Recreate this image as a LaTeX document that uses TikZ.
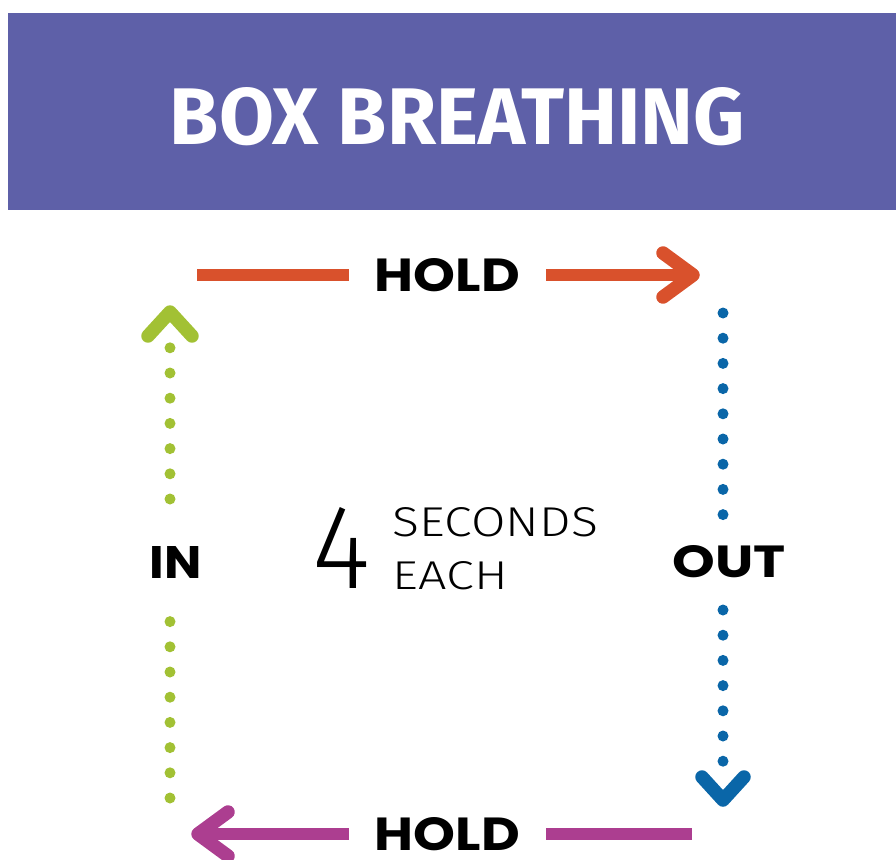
\documentclass[tikz,border=0pt]{standalone}
\usepackage{graphicx}
\usepackage{fontspec}
\setmainfont{Poppins}
\newfontfamily\titlefont{Fira Sans}
\IfFontExistsTF{Fira Sans Light}{\newfontfamily\lightfont{Fira Sans Light}}{\newfontfamily\lightfont{Lato}}
\usetikzlibrary{calc}
\definecolor{bandpurple}{RGB}{94,96,168}
\definecolor{holdorange}{RGB}{217,81,44}
\definecolor{ingreen}{RGB}{162,193,52}
\definecolor{outblue}{RGB}{10,102,168}
\definecolor{holdmagenta}{RGB}{172,62,144}
\tikzset{
  txt/.style={inner sep=0pt, outer sep=0pt, anchor=center},
  lbl/.style={txt, font=\bfseries},
  solidline/.style={line width=12pt, line cap=butt},
  chev/.style={line width=13.5pt, line cap=round, line join=round},
  dots/.style={line width=11pt, line cap=round, dash pattern=on 0pt off 25.2pt},
}
\begin{document}
\begin{tikzpicture}[x=1pt,y=-1pt]
\useasboundingbox (0,0) rectangle (896,859);
% header band
\fill[bandpurple] (8,13) rectangle (896,210);
\node[txt, text=white] (title) at (457.5,116.5) {\titlefont\bfseries\resizebox{575pt}{57pt}{BOX BREATHING}};

% labels
\node[lbl, inner xsep=26pt] (holdtop) at (447.5,275) {\resizebox{145pt}{33pt}{HOLD}};
\node[lbl, inner xsep=26pt] (holdbot) at (447.5,834) {\resizebox{145pt}{33pt}{HOLD}};
\node[lbl] (in) at (176,562) {\resizebox{52pt}{32pt}{IN}};
\node[lbl] (out) at (729.5,562) {\resizebox{113pt}{32pt}{OUT}};
\node[txt] (four) at (341,547.5) {\lightfont\resizebox{58pt}{81pt}{4}};
\node[txt] (secs) at (495.5,522.5) {\lightfont\resizebox{205pt}{29pt}{SECONDS}};
\node[txt] (each) at (450.5,576) {\lightfont\resizebox{115pt}{28pt}{EACH}};

% coordinates
\coordinate (otl) at (197,275);
\coordinate (otip) at (693,275);
\coordinate (mr) at (692,834);
\coordinate (mtip) at (198,834);
\coordinate (gA) at (170,798);
\coordinate (gB) at (170,621.5);
\coordinate (gC) at (170,499);
\coordinate (gD) at (170,347.5);
\coordinate (gtip) at (170,312);
\coordinate (bA) at (723,313);
\coordinate (bB) at (723,515);
\coordinate (bC) at (723,610);
\coordinate (bD) at (723,762.5);
\coordinate (btip) at (723,800);

% top HOLD (orange)
\draw[solidline, holdorange] (otl) -- (holdtop.west);
\draw[solidline, holdorange] (holdtop.east) -- (otip);
\draw[chev, holdorange] ($(otip)+(-30,-22)$) -- (otip) -- ($(otip)+(-30,22)$);

% OUT (blue dotted)
\draw[dots, outblue] (bA) -- (bB);
\draw[dots, outblue] (bC) -- (bD);
\draw[chev, outblue] ($(btip)+(-21,-23)$) -- (btip) -- ($(btip)+(21,-23)$);

% bottom HOLD (magenta)
\draw[solidline, holdmagenta] (mr) -- (holdbot.east);
\draw[solidline, holdmagenta] (holdbot.west) -- (mtip);
\draw[chev, holdmagenta] ($(mtip)+(30,-22)$) -- (mtip) -- ($(mtip)+(30,22)$);

% IN (green dotted)
\draw[dots, ingreen] (gA) -- (gB);
\draw[dots, ingreen] (gC) -- (gD);
\draw[chev, ingreen] ($(gtip)+(-22,24)$) -- (gtip) -- ($(gtip)+(22,24)$);
\end{tikzpicture}
\end{document}
